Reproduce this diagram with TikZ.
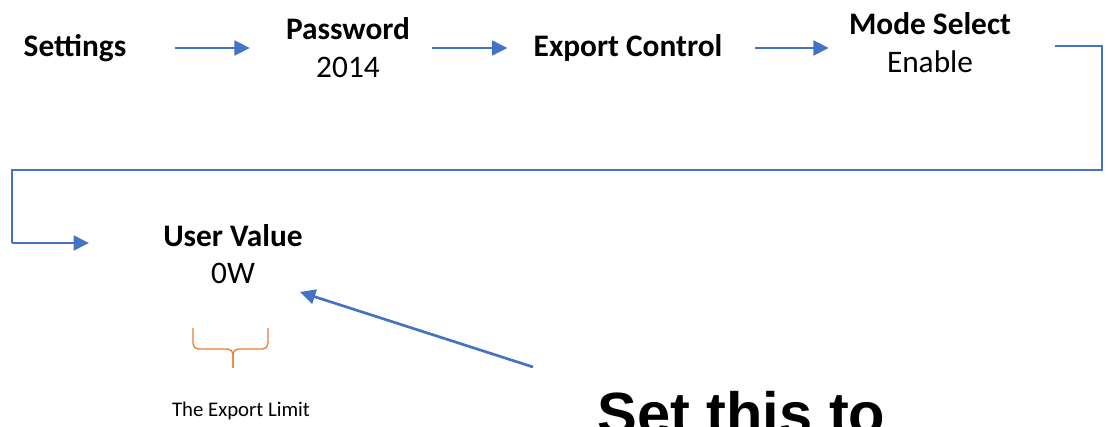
\documentclass[tikz,border=0pt]{standalone}
\usepackage{fontspec}
\setmainfont{Carlito}
\newfontfamily\notefont{Liberation Sans}
\usetikzlibrary{arrows.meta}
\definecolor{flowblue}{HTML}{4472C4}
\definecolor{braceorange}{HTML}{ED7D31}

\begin{document}
\begin{tikzpicture}[x=0.75pt, y=-0.75pt,
    step label/.style = {inner sep=0pt, align=center, font=\fontsize{23.5}{29}\selectfont},
    flow/.style = {flowblue, line width=2pt, -{Triangle[length=11.5pt, width=11pt]}},
    link/.style = {flowblue, line width=1.1pt}]
            \useasboundingbox (0,0) rectangle (1110,427);
            \node[step label] (settings) at (75,48) {\textbf{Settings}};
            \node[step label] (password) at (348,47.5) {\textbf{Password}\\2014};
            \node[step label] (export) at (628,48) {\textbf{Export Control}};
            \node[step label] (mode) at (930,42.5) {\textbf{Mode Select}\\Enable};
            \node[step label, font=\fontsize{23.5}{27.75}\selectfont] (user) at (233,254.5) {\textbf{User Value}\\0W};
            \node[inner sep=0pt, font=\fontsize{15.6}{18}\selectfont] (limit) at (241,411) {The Export Limit};
            \node[inner sep=0pt, anchor=base west, font=\notefont\bfseries\fontsize{44.7}{50}\selectfont] (note) at (597,435) {Set this to};
            \coordinate (turnA) at (1102,46);
            \coordinate (turnB) at (1102,170);
            \coordinate (turnC) at (12,170);
            \coordinate (turnD) at (12,243);
            \coordinate (notetail) at (533,367);
            \coordinate (notetip) at (300,292);
            \draw[flow, shorten <=36pt, shorten >=27pt] (settings.east) -- (settings.east -| password.west);
            \draw[flow, shorten <=16.5pt, shorten >=19.5pt] (password.east |- settings.east) -- (settings.east -| export.west);
            \draw[flow, shorten <=24pt, shorten >=15pt] (export.east) -- (export.east -| mode.west);
            \draw[link, shorten <=33pt] (mode.east |- turnA) -- (turnA) -- (turnB) -- (turnC) -- (turnD);
            \draw[flow, shorten >=55.5pt] (turnD) -- (turnD -| user.west);
            \draw[flow] (notetail) -- (notetip);
            \draw[braceorange, line width=1pt, rounded corners=4pt] (193,328) |- (233,349) -- (233,368);
            \draw[braceorange, line width=1pt, rounded corners=4pt] (268,328) |- (233,349) -- (233,368);

        \end{tikzpicture}
\end{document}
